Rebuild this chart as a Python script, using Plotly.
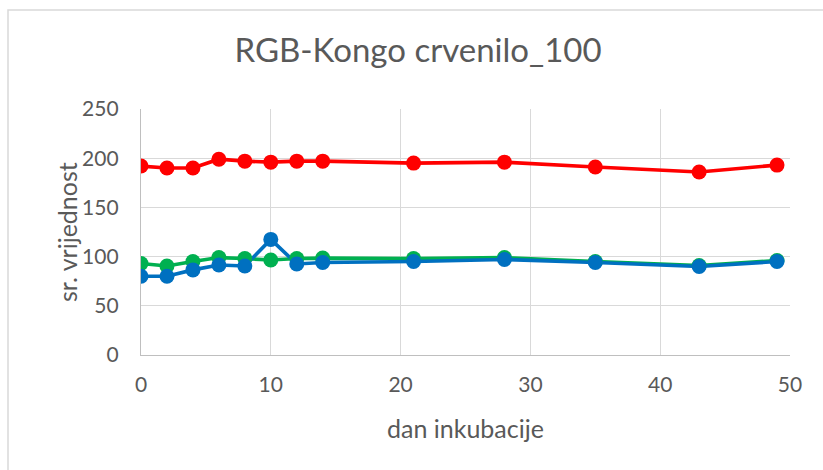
import plotly.graph_objects as go

# incubation day and mean channel values
days = [0, 2, 4, 6, 8, 10, 12, 14, 21, 28, 35, 43, 49]
red_vals = [192, 190, 190, 199, 197, 196, 197, 197, 195, 196, 191, 186, 193]
green_vals = [93, 90.5, 95, 99, 98, 96.5, 98, 98.5, 98, 99, 95, 91, 96]
blue_vals = [80, 80, 86.5, 91.5, 90.5, 117.5, 92.5, 94, 95, 97, 94, 90, 95]

series = [
    ("R", red_vals, "#FF0000"),
    ("G", green_vals, "#00B050"),
    ("B", blue_vals, "#0070C0"),
]

FONT = "Lato"
TXT = "#595959"
GRID = "#D9D9D9"

fig = go.Figure()

# lines first, then markers so markers sit above every line
for name, vals, col in series:
    fig.add_trace(go.Scatter(x=days, y=vals, mode="lines", name=name,
                             line=dict(color=col, width=3.6),
                             showlegend=False, hoverinfo="skip"))
for name, vals, col in series:
    fig.add_trace(go.Scatter(x=days, y=vals, mode="markers", name=name,
                             marker=dict(color=col, size=15),
                             showlegend=False))

L, R, T, B = 141, 33, 109, 115
W, H = 823, 470
pw, ph = W - L - R, H - T - B


def px_x(px):
    return (px - L) / pw


def px_y(py):
    return (T + ph - py) / ph


# chart-area frame (starts slightly inside the top-left corner)
fig.add_shape(type="rect", xref="paper", yref="paper",
              x0=px_x(8), x1=px_x(W + 5), y0=px_y(H + 5), y1=px_y(10),
              line=dict(color=GRID, width=1.5), fillcolor="rgba(0,0,0,0)",
              layer="below")

# axis titles
fig.add_annotation(text="dan inkubacije", xref="paper", yref="paper",
                   x=px_x(465), y=px_y(428), xanchor="center", yanchor="middle",
                   showarrow=False, font=dict(family=FONT, size=25, color=TXT))
fig.add_annotation(text="sr. vrijednost", xref="paper", yref="paper",
                   x=px_x(67), y=px_y(232), xanchor="center", yanchor="middle",
                   textangle=-90, showarrow=False,
                   font=dict(family=FONT, size=25, color=TXT))

fig.update_layout(
    width=W, height=H,
    margin=dict(l=L, r=R, t=T, b=B),
    paper_bgcolor="white", plot_bgcolor="white",
    font=dict(family=FONT, color=TXT),
    title=dict(text="RGB-Kongo crvenilo_100", x=418 / W, xanchor="center",
               y=1 - 50 / H, yanchor="middle",
               font=dict(family=FONT, size=33, color=TXT)),
    xaxis=dict(range=[0, 50], dtick=10, tick0=0,
               showgrid=True, gridcolor=GRID, gridwidth=1.3,
               showline=True, linecolor="#BFBFBF", linewidth=1.3,
               zeroline=False, ticks="", ticklabelstandoff=11,
               tickfont=dict(size=21, color=TXT)),
    yaxis=dict(range=[0, 250], dtick=50, tick0=0,
               showgrid=True, gridcolor=GRID, gridwidth=1.3,
               showline=True, linecolor="#BFBFBF", linewidth=1.3,
               zeroline=False, ticks="", ticklabelstandoff=17,
               tickfont=dict(size=21, color=TXT)),
)

fig.write_html("out.html")
